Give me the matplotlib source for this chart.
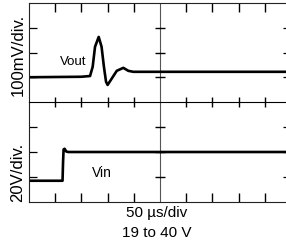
"""Scope capture: Vout transient response to a 19 V -> 40 V input step."""

import matplotlib

matplotlib.use("Agg")
import matplotlib.pyplot as plt

# time in divisions (50 us/div), amplitude in divisions
vout_t = [0.0, 2.0, 2.33, 2.43, 2.52, 2.66, 2.77, 2.86, 2.94, 3.0, 3.16, 3.35, 3.6, 3.79, 3.98, 10.0]
vout_v = [1.0, 1.02, 1.05, 1.42, 2.23, 2.63, 2.23, 1.42, 0.82, 0.69, 0.95, 1.26, 1.38, 1.26, 1.22, 1.22]

vin_t = [0.0, 1.28, 1.30, 1.32, 1.36, 1.42, 1.5, 10.0]
vin_v = [0.85, 0.85, 1.6, 2.1, 2.13, 2.02, 2.0, 2.0]

x_ticks = [1, 2, 3, 4, 6, 7, 8, 9]
y_ticks = [1, 2, 3]

plt.rcParams["font.family"] = ["Liberation Sans", "DejaVu Sans"]

W, H = 286, 244
fig = plt.figure(figsize=(W / 100, H / 100), dpi=100)

left, right = 29 / W, 291 / W
y_top, y_mid, y_bot = 1 - 3 / H, 1 - 102 / H, 1 - 202 / H

ax_top = fig.add_axes([left, y_mid, right - left, y_top - y_mid])
ax_bot = fig.add_axes([left, y_bot, right - left, y_mid - y_bot])

tick_kw = dict(ls="none", mew=1.0, color="black", clip_on=False, zorder=3)

for ax in (ax_top, ax_bot):
    ax.set_xlim(0, 10)
    ax.set_ylim(0, 4)
    ax.set_xticks(x_ticks)
    ax.set_yticks(y_ticks)
    ax.set_xticklabels([])
    ax.set_yticklabels([])
    for s in ax.spines.values():
        s.set_linewidth(0.8)
        s.set_color("#222222")
    ax.tick_params(axis="y", direction="in", left=True, right=True, length=6, width=0.9)
    ax.tick_params(axis="x", direction="in", length=6.5, width=1.0, color="black")
    # center vertical line with crossing ticks
    ax.axvline(5, color="#555555", lw=0.8)
    ax.plot([5] * len(y_ticks), y_ticks, marker="_", ms=6.5, **tick_kw)

ax_top.tick_params(axis="x", top=True, bottom=False)
ax_top.spines["bottom"].set_visible(False)
ax_bot.tick_params(axis="x", top=False, bottom=True)
ax_bot.spines["top"].set_color("black")
# middle line ticks cross both sides
ax_bot.plot(x_ticks, [4] * len(x_ticks), marker="|", ms=7, **tick_kw)

ax_top.plot(vout_t, vout_v, color="black", lw=1.9, solid_joinstyle="round")
ax_bot.plot(vin_t, vin_v, color="black", lw=1.9, solid_joinstyle="round")

ax_top.text(1.68, 1.61, "Vout", fontsize=9.5, ha="center", va="center")
ax_bot.text(2.79, 1.16, "Vin", fontsize=10, ha="center", va="center")

fig.text(18 / W, 1 - 55 / H, "100mV/div.", fontsize=12, rotation=90, ha="center", va="center")
fig.text(18 / W, 1 - 172 / H, "20V/div.", fontsize=12, rotation=90, ha="center", va="center")
fig.text(157 / W, 1 - 213 / H, "50 \u00b5s/div", fontsize=11, ha="center", va="center")
fig.text(157 / W, 1 - 233 / H, "19 to 40 V", fontsize=11, ha="center", va="center")

fig.savefig("out.png", dpi=100)
